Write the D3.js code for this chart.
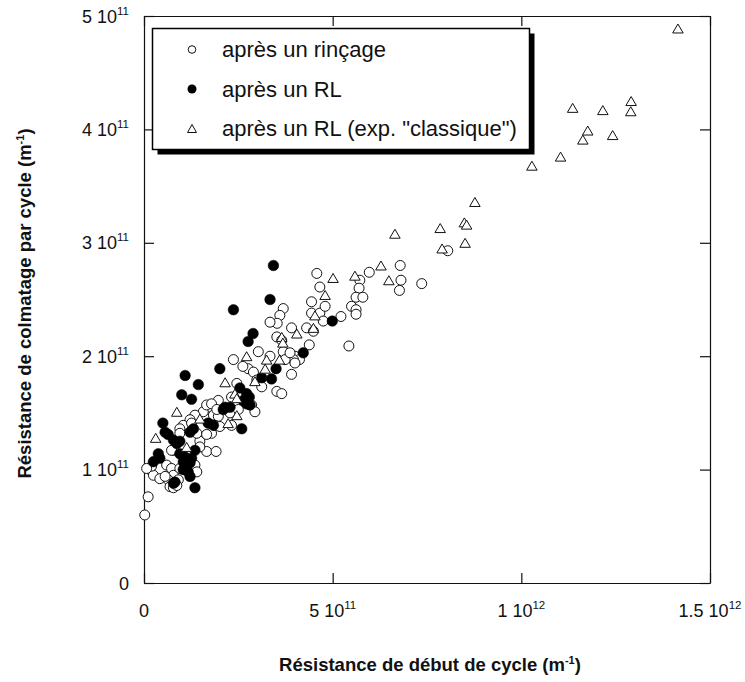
<!DOCTYPE html>
<html>
<head>
<meta charset="utf-8">
<script src="https://cdn.jsdelivr.net/npm/d3@7"></script>
<style>
  html, body { margin: 0; padding: 0; background: #fff; }
  svg { display: block; font-family: "Liberation Sans", Arial, sans-serif; }
</style>
</head>
<body>
<svg id="chart" width="745" height="682"></svg>
<script>
// All resistances expressed in units of 1e11 m^-1: [start-of-cycle, fouling per cycle]
const apresRincage = [
  [8.05,2.93],[7.36,2.64],[6.79,2.80],[5.97,2.74],[6.81,2.67],[6.77,2.58],[4.58,2.73],[5.72,2.67],
  [4.66,2.61],[5.70,2.60],[5.62,2.52],[5.80,2.52],[4.44,2.48],[3.69,2.42],[3.60,2.36],[5.50,2.44],
  [5.62,2.41],[5.62,2.37],[4.44,2.38],[4.66,2.38],[4.80,2.44],[5.22,2.35],[4.75,2.31],[3.53,2.29],
  [3.91,2.25],[4.31,2.25],[4.49,2.22],[3.52,2.17],[4.38,2.10],[5.43,2.09],[3.69,2.04],[4.00,2.00],
  [4.12,1.97],[3.96,1.97],[3.74,1.97],[3.91,1.84],[3.52,1.69],[3.65,1.67],[3.34,2.30],[3.65,2.14],
  [3.87,2.03],[4.00,1.94],[3.03,2.04],[2.37,1.97],[2.76,1.89],[3.34,2.00],[2.90,1.86],[2.99,1.79],
  [3.12,1.73],[2.46,1.76],[1.97,1.61],[1.75,1.55],[1.57,1.51],[1.84,1.48],[2.32,1.64],[2.62,1.91],
  [2.28,1.50],[0.11,0.76],[0.02,0.60],[0.16,1.00],[0.25,0.95],[0.42,0.92],[0.60,1.04],[0.73,1.01],
  [0.78,0.95],[0.64,0.91],[0.91,0.91],[1.35,1.04],[1.40,0.98],[1.66,1.16],[1.91,1.16],[1.48,1.25],
  [1.48,1.20],[1.79,1.32],[1.97,1.47],[1.35,1.48],[1.22,1.44],[1.04,1.39],[0.95,1.36],[0.78,1.17],
  [2.32,1.39],[2.50,1.53],[2.85,1.57],[2.94,1.51],[1.66,1.57],[1.79,1.58],[1.93,1.53],[1.26,1.41],
  [0.95,1.32],[0.73,1.17],[0.20,1.03],[0.56,0.94],[0.95,1.01],[0.69,0.85],[0.07,1.01],[0.78,0.84],
  [0.87,0.86],[1.88,1.39],[2.01,1.38],[1.40,1.32],[1.66,1.31]
];

const apresRL = [
  [3.43,2.80],[3.34,2.50],[2.37,2.41],[4.99,2.31],[2.89,2.20],[2.76,2.13],[4.22,2.03],[2.01,1.89],
  [3.50,1.89],[3.38,1.80],[3.12,1.81],[1.09,1.83],[1.44,1.75],[1.00,1.66],[1.26,1.62],[2.54,1.72],
  [2.72,1.67],[2.79,1.64],[2.81,1.57],[2.63,1.61],[2.15,1.55],[2.10,1.53],[2.28,1.55],[2.72,1.58],
  [0.50,1.41],[0.56,1.33],[0.64,1.31],[0.78,1.26],[0.87,1.23],[0.95,1.25],[1.22,1.33],[1.31,1.36],
  [1.70,1.41],[1.84,1.39],[2.59,1.36],[0.38,1.14],[0.42,1.10],[0.25,1.07],[0.95,1.14],[1.09,1.11],
  [1.04,1.07],[1.13,1.04],[1.22,1.06],[1.26,1.10],[1.35,1.17],[1.04,1.00],[1.17,0.98],[1.22,0.94],
  [0.78,0.88],[0.82,0.89],[1.35,0.84]
];

const apresRLClassique = [
  [14.15,4.89],[11.36,4.19],[12.16,4.17],[12.91,4.25],[12.90,4.16],[11.76,3.99],[11.63,3.91],[12.42,3.95],
  [11.04,3.76],[10.28,3.68],[8.77,3.36],[7.85,3.13],[8.49,3.18],[8.55,3.16],[8.51,3.00],[7.90,2.95],
  [6.65,3.08],[6.28,2.80],[5.59,2.71],[5.01,2.69],[6.49,2.67],[4.80,2.54],[4.53,2.36],[4.49,2.25],
  [4.05,2.20],[3.65,2.17],[3.68,2.12],[3.59,1.97],[3.25,1.97],[2.72,2.00],[3.21,1.89],[2.15,1.77],
  [2.94,1.78],[2.41,1.67],[2.46,1.63],[2.46,1.48],[2.23,1.41],[1.48,1.45],[0.87,1.51],[0.31,1.28],
  [1.13,1.20]
];

// Tick values (1e11 units) and their labels as mantissa + power of ten
const xTickValues = [0, 5, 10, 15];
const xTickMantissa = ["0", "5 10", "1 10", "1.5 10"];
const xTickPower = ["", "11", "12", "12"];
const yTickValues = [0, 1, 2, 3, 4, 5];
const yTickMantissa = ["0", "1 10", "2 10", "3 10", "4 10", "5 10"];
const yTickPower = ["", "11", "11", "11", "11", "11"];

const legendLabels = ["après un rinçage", "après un RL", "après un RL (exp. \"classique\")"];
const xTitle = "Résistance de début de cycle (m";
const yTitle = "Résistance de colmatage par cycle (m";

const svg = d3.select("#chart");
const plot = { left: 144, right: 710, top: 16, bottom: 583 };

const x = d3.scaleLinear().domain([0, 15]).range([plot.left, plot.right]);
const y = d3.scaleLinear().domain([0, 5]).range([plot.bottom, plot.top]);

const tickLen = 10;
const ink = "#111";

// Frame: four axes, ticks pointing inwards, labels drawn separately
const axes = [
  { ax: d3.axisBottom(x).tickValues(xTickValues), tr: `translate(0,${plot.bottom})` },
  { ax: d3.axisTop(x).tickValues(xTickValues), tr: `translate(0,${plot.top})` },
  { ax: d3.axisLeft(y).tickValues(yTickValues), tr: `translate(${plot.left},0)` },
  { ax: d3.axisRight(y).tickValues(yTickValues), tr: `translate(${plot.right},0)` }
];
axes.forEach(a => {
  const g = svg.append("g")
    .attr("transform", a.tr)
    .call(a.ax.tickSize(-tickLen).tickSizeOuter(0).tickFormat(""));
  g.select(".domain").attr("stroke", ink).attr("stroke-width", 1.2);
  g.selectAll(".tick line").attr("stroke", ink).attr("stroke-width", 1.2);
});

// Tick labels with superscript powers of ten
const tickFont = 18, supFont = 11.5;
xTickValues.forEach((v, i) => {
  const t = svg.append("text")
    .attr("x", x(v)).attr("y", plot.bottom + 34)
    .attr("text-anchor", "middle")
    .attr("font-size", tickFont).attr("fill", ink);
  t.append("tspan").text(xTickMantissa[i]);
  if (xTickPower[i]) {
    t.append("tspan").attr("font-size", supFont).attr("dy", -8).text(xTickPower[i]);
  }
});
yTickValues.forEach((v, i) => {
  const t = svg.append("text")
    .attr("x", plot.left - 15).attr("y", y(v) + 6.5)
    .attr("text-anchor", "end")
    .attr("font-size", tickFont).attr("fill", ink);
  t.append("tspan").text(yTickMantissa[i]);
  if (yTickPower[i]) {
    t.append("tspan").attr("font-size", supFont).attr("dy", -8).text(yTickPower[i]);
  }
});

// Axis titles
function title(sel, main) {
  sel.append("tspan").text(main);
  sel.append("tspan").attr("font-size", 11).attr("dy", -7).text("-1");
  sel.append("tspan").attr("dy", 7).text(")");
}
const xt = svg.append("text")
  .attr("x", (plot.left + plot.right) / 2 + 3).attr("y", 671)
  .attr("text-anchor", "middle").attr("font-weight", "bold")
  .attr("font-size", 18.5).attr("fill", ink);
title(xt, xTitle);

const yt = svg.append("text")
  .attr("transform", `translate(31,${(plot.top + plot.bottom) / 2 + 4}) rotate(-90)`)
  .attr("text-anchor", "middle").attr("font-weight", "bold")
  .attr("font-size", 18.5).attr("fill", ink);
title(yt, yTitle);

// Markers
const tri = (w, h) => `M0,${-h / 2}L${w / 2},${h / 2}L${-w / 2},${h / 2}Z`;

const marks = svg.append("g");
marks.selectAll("circle.rinc").data(apresRincage).join("circle")
  .attr("class", "rinc")
  .attr("cx", d => x(d[0])).attr("cy", d => y(d[1])).attr("r", 5)
  .attr("fill", "#fff").attr("stroke", ink).attr("stroke-width", 1);

marks.selectAll("circle.rl").data(apresRL).join("circle")
  .attr("class", "rl")
  .attr("cx", d => x(d[0])).attr("cy", d => y(d[1])).attr("r", 5.3)
  .attr("fill", "#000").attr("stroke", "#000").attr("stroke-width", 0.5);

marks.selectAll("path.cl").data(apresRLClassique).join("path")
  .attr("class", "cl")
  .attr("transform", d => `translate(${x(d[0])},${y(d[1])})`)
  .attr("d", tri(10.5, 9))
  .attr("fill", "#fff").attr("stroke", ink).attr("stroke-width", 1);

// Legend box with drop shadow
const lg = { x0: 152.5, y0: 28.5, x1: 529.5, y1: 149.5, shadow: 5 };
svg.append("rect")
  .attr("x", lg.x0 + lg.shadow).attr("y", lg.y0 + lg.shadow)
  .attr("width", lg.x1 - lg.x0).attr("height", lg.y1 - lg.y0)
  .attr("fill", "#000");
svg.append("rect")
  .attr("x", lg.x0).attr("y", lg.y0)
  .attr("width", lg.x1 - lg.x0).attr("height", lg.y1 - lg.y0)
  .attr("fill", "#fff").attr("stroke", "#000").attr("stroke-width", 1.5);

const rowY = [49.5, 89, 128.5];
const legend = svg.append("g");
legend.append("circle").attr("cx", 192).attr("cy", rowY[0]).attr("r", 3.8)
  .attr("fill", "#fff").attr("stroke", ink).attr("stroke-width", 1);
legend.append("circle").attr("cx", 192).attr("cy", rowY[1]).attr("r", 4.5)
  .attr("fill", "#000");
legend.append("path").attr("transform", `translate(192,${rowY[2]})`)
  .attr("d", tri(9, 8))
  .attr("fill", "#fff").attr("stroke", ink).attr("stroke-width", 1);
legendLabels.forEach((s, i) => {
  legend.append("text")
    .attr("x", 222).attr("y", rowY[i] + 7.5)
    .attr("font-size", 22).attr("fill", ink)
    .text(s);
});
</script>
</body>
</html>
